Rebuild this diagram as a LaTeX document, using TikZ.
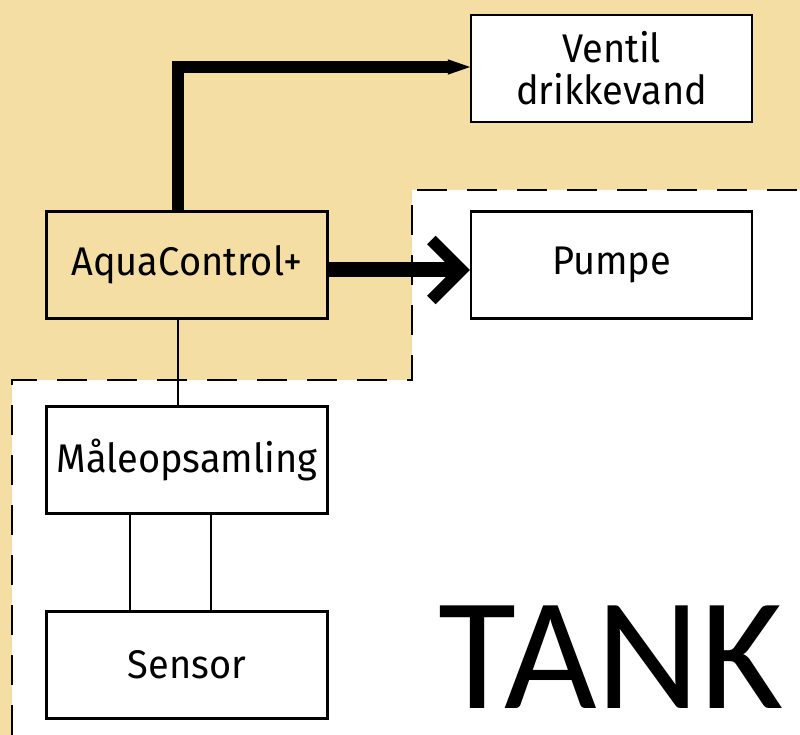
\documentclass[tikz,border=0pt]{standalone}
\usepackage{fontspec}
\setmainfont{Fira Sans}[FakeStretch=0.95]
\newfontfamily\tankfont{Carlito}
\usetikzlibrary{arrows.meta}
\definecolor{beige}{HTML}{F4DEA4}
\tikzset{
  blk/.style={draw=black, line width=2.5pt, minimum width=281pt, minimum height=107pt,
    inner sep=0pt, font=\fontsize{40}{42}\selectfont, align=center},
  thick conn/.style={line width=12pt},
  thin conn/.style={line width=2.5pt},
  zone/.style={dashed, dash pattern=on 30pt off 20pt, line width=2.5pt}
}
\begin{document}
\begin{tikzpicture}[x=1pt,y=-1pt]
\useasboundingbox (0,0) rectangle (800,735);
\fill[beige] (0,0) rectangle (800,735);
\fill[white] (12,735) -- (12,380) -- (412,380) -- (412,190) -- (800,190) -- (800,735) -- cycle;
\draw[zone] (12,735) -- (12,380) -- (412,380) -- (412,190) -- (800,190);

\node[blk, fill=white] (ventil) at (611.5,68.5) {Ventil\\drikkevand};
\node[blk, fill=white] (pumpe) at (611.5,265) {Pumpe};
\node[blk, fill=beige] (aqua) at (187,265) {AquaControl+};
\node[blk, fill=white] (maale) at (187,460) {Måleopsamling};
\node[blk, fill=white] (sensor) at (187,665) {Sensor};
\node[font=\tankfont\fontsize{160}{160}\selectfont, inner sep=0pt, anchor=base] (tank) at (611,708) {TANK};

\draw[thick conn, shorten >=-8pt, -{Triangle[length=30pt,width=12pt]}] (aqua.north -| 178,0) -- (178,67) -- (ventil.west |- 0,67);
\draw[line width=15pt, -{Straight Barb[length=30pt,width=60pt,line width=12pt]}] ([yshift=-5pt]aqua.east) -- ([yshift=-5pt]pumpe.west);
\draw[thin conn] (aqua.south -| 178,0) -- (maale.north -| 178,0);
\draw[thin conn] (maale.south -| 130,0) -- (sensor.north -| 130,0);
\draw[thin conn] (maale.south -| 211,0) -- (sensor.north -| 211,0);
\end{tikzpicture}
\end{document}
